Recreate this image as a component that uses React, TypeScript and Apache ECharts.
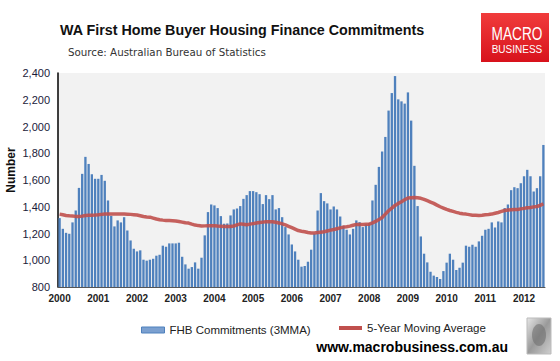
import React, { useEffect, useRef } from "react";
import * as echarts from "echarts";

const years = [2000, 2001, 2002, 2003, 2004, 2005, 2006, 2007, 2008, 2009, 2010, 2011, 2012];

const fhbCommitments = [
  1315, 1235, 1205, 1198, 1283, 1372, 1541, 1646, 1773, 1720, 1643, 1609,
  1609, 1638, 1594, 1447, 1332, 1253, 1298, 1283, 1322, 1223, 1148, 1086,
  1066, 1074, 1004, 997, 1004, 1011, 1034, 1041, 1109, 1101, 1126, 1126,
  1126, 1131, 1026, 969, 937, 949, 984, 937, 1019, 1186, 1360, 1417,
  1410, 1390, 1330, 1273, 1275, 1335, 1380, 1387, 1405, 1459, 1487, 1517,
  1517, 1509, 1494, 1420, 1487, 1457, 1487, 1380, 1390, 1322, 1248, 1193,
  1118, 1066, 1004, 952, 957, 989, 1079, 1198, 1372, 1502, 1442, 1425,
  1380, 1402, 1380, 1327, 1258, 1228, 1193, 1235, 1298, 1285, 1248, 1268,
  1278, 1447, 1564, 1698, 1813, 1922, 2119, 2250, 2377, 2203, 2188, 2171,
  2255, 2044, 1706, 1405, 1178, 1049, 984, 914, 885, 875, 860, 919,
  982, 1049, 1004, 927, 944, 982, 1109, 1101, 1116, 1101, 1141, 1183,
  1228, 1235, 1283, 1245, 1290, 1283, 1390, 1417, 1524, 1546, 1539, 1576,
  1628, 1676, 1628, 1514, 1539, 1628, 1862,
];

const movingAverage5y = [
  1345, 1340, 1335, 1332, 1330, 1328, 1327, 1330, 1335, 1336, 1337, 1338,
  1340, 1343, 1345, 1345, 1345, 1345, 1345, 1345, 1345, 1344, 1343, 1341,
  1338, 1333, 1327, 1324, 1322, 1315, 1308, 1303, 1300, 1298, 1297, 1296,
  1294, 1290, 1285, 1280, 1278, 1270, 1263, 1259, 1256, 1257, 1258, 1258,
  1258, 1256, 1255, 1253, 1252, 1253, 1256, 1264, 1272, 1269, 1266, 1270,
  1274, 1278, 1282, 1285, 1288, 1288, 1288, 1284, 1279, 1272, 1264, 1254,
  1244, 1233, 1222, 1217, 1213, 1207, 1203, 1204, 1207, 1210, 1213, 1219,
  1225, 1230, 1236, 1242, 1248, 1251, 1255, 1262, 1268, 1268, 1268, 1269,
  1270, 1279, 1290, 1304, 1320, 1345, 1370, 1390, 1410, 1425, 1438, 1452,
  1465, 1468, 1469, 1467, 1463, 1455, 1445, 1435, 1425, 1412, 1400, 1390,
  1380, 1372, 1365, 1358, 1352, 1348, 1345, 1341, 1337, 1336, 1335, 1337,
  1340, 1342, 1345, 1351, 1357, 1365, 1372, 1375, 1377, 1379, 1380, 1384,
  1388, 1392, 1395, 1399, 1402, 1410, 1422,
];

const categories: string[] = [];
years.forEach((y) => {
  for (let m = 1; m <= 12; m++) categories.push(`${y}-${m < 10 ? "0" + m : m}`);
});
const months = categories.slice(0, fhbCommitments.length);

export default function App() {
  const ref = useRef<HTMLDivElement>(null);
  useEffect(() => {
    if (!ref.current) return;
    document.body.style.margin = "0";
    const chart = echarts.init(ref.current, undefined, { renderer: "svg" });
    const font = "Liberation Sans, Arial, sans-serif";
    chart.setOption({
      animation: false,
      backgroundColor: "#ffffff",
      title: [
        {
          text: "WA First Home Buyer Housing Finance Commitments",
          left: 55,
          top: 18,
          textStyle: { fontFamily: font, fontSize: 14.3, fontWeight: "bold", color: "#111111" },
        },
        {
          text: "Source: Australian Bureau of Statistics",
          left: 63,
          top: 42,
          textStyle: { fontFamily: "DejaVu Sans, sans-serif", fontSize: 10.3, fontWeight: "normal", color: "#333333" },
        },
      ],
      grid: { left: 58, right: 15, top: 73, bottom: 74, show: true, backgroundColor: "#f2f2f2", borderWidth: 0 },
      legend: [
        {
          left: 136,
          top: 319,
          itemWidth: 23,
          itemHeight: 6,
          textStyle: { fontFamily: font, fontSize: 11.5, color: "#222222" },
          data: [
            { name: "FHB Commitments (3MMA)", icon: "rect", itemStyle: { color: "#7ba0d0", borderColor: "#4f81bd", borderWidth: 1 } },
          ],
        },
        {
          left: 334,
          top: 317,
          itemWidth: 23,
          itemHeight: 4,
          textStyle: { fontFamily: font, fontSize: 11.5, color: "#222222" },
          data: [{ name: "5-Year Moving Average", icon: "rect", itemStyle: { color: "#c0504d" } }],
        },
      ],
      xAxis: {
        type: "category",
        data: months,
        axisLine: { show: true, lineStyle: { color: "#555555", width: 1 } },
        axisTick: { show: false },
        axisLabel: {
          interval: (i: number) => i % 12 === 0,
          formatter: (v: string) => v.slice(0, 4),
          fontFamily: font,
          fontSize: 10,
          fontWeight: "bold",
          color: "#222222",
          margin: 6,
        },
        splitLine: { show: false },
      },
      yAxis: {
        type: "value",
        min: 800,
        max: 2400,
        interval: 200,
        axisLine: { show: true, lineStyle: { color: "#000000", width: 1.5 } },
        axisTick: { show: false },
        splitLine: { show: false },
        axisLabel: {
          fontFamily: font,
          fontSize: 11,
          color: "#1a1a3a",
          margin: 8,
          formatter: (v: number) => v.toLocaleString("en-US"),
        },
      },
      series: [
        {
          name: "FHB Commitments (3MMA)",
          type: "bar",
          data: fhbCommitments,
          barCategoryGap: "28%",
          itemStyle: { color: "#4f81bd" },
        },
        {
          name: "5-Year Moving Average",
          type: "line",
          data: movingAverage5y,
          symbol: "none",
          smooth: false,
          lineStyle: { color: "#c0504d", width: 3.5, opacity: 0.9 },
          itemStyle: { color: "#c0504d" },
          z: 3,
        },
      ],
      graphic: [
        {
          type: "text",
          x: 11,
          y: 170,
          rotation: Math.PI / 2,
          style: { text: "Number", x: 0, y: 0, align: "center", verticalAlign: "middle", fill: "#111111", fontFamily: font, fontSize: 12, fontWeight: "bold" },
        },
        {
          type: "rect",
          shape: { x: 481, y: 13, width: 68, height: 49 },
          style: {
            fill: new echarts.graphic.LinearGradient(0, 0, 0, 1, [
              { offset: 0, color: "#f03c3c" },
              { offset: 1, color: "#d8121c" },
            ]),
          },
        },
        {
          type: "text",
          x: 517,
          y: 34,
          scaleX: 0.76,
          style: { text: "MACRO", x: 0, y: 0, align: "center", verticalAlign: "middle", fill: "#ffffff", fontFamily: font, fontSize: 18 },
        },
        {
          type: "text",
          style: { text: "BUSINESS", x: 517, y: 49.5, align: "center", verticalAlign: "middle", fill: "#ffffff", fontFamily: font, fontSize: 10 },
        },
        {
          type: "text",
          style: { text: "www.macrobusiness.com.au", x: 508, y: 347, align: "right", verticalAlign: "middle", fill: "#000000", fontFamily: font, fontSize: 14, fontWeight: "bold" },
        },
        {
          type: "rect",
          shape: { x: 527, y: 318, width: 24, height: 36 },
          style: {
            fill: new echarts.graphic.LinearGradient(0, 0, 1, 1, [
              { offset: 0, color: "#e6e6e6" },
              { offset: 0.5, color: "#9a9a9a" },
              { offset: 1, color: "#cfcfcf" },
            ]),
            stroke: "#bbbbbb",
            lineWidth: 1,
          },
        },
        {
          type: "ellipse",
          shape: { cx: 539, cy: 335, rx: 7, ry: 11 },
          style: { fill: "#6f6f6f", opacity: 0.6 },
        },
      ],
    });
    return () => chart.dispose();
  }, []);
  return <div ref={ref} style={{ width: 560, height: 361, position: "absolute", left: 0, top: 0 }} />;
}
